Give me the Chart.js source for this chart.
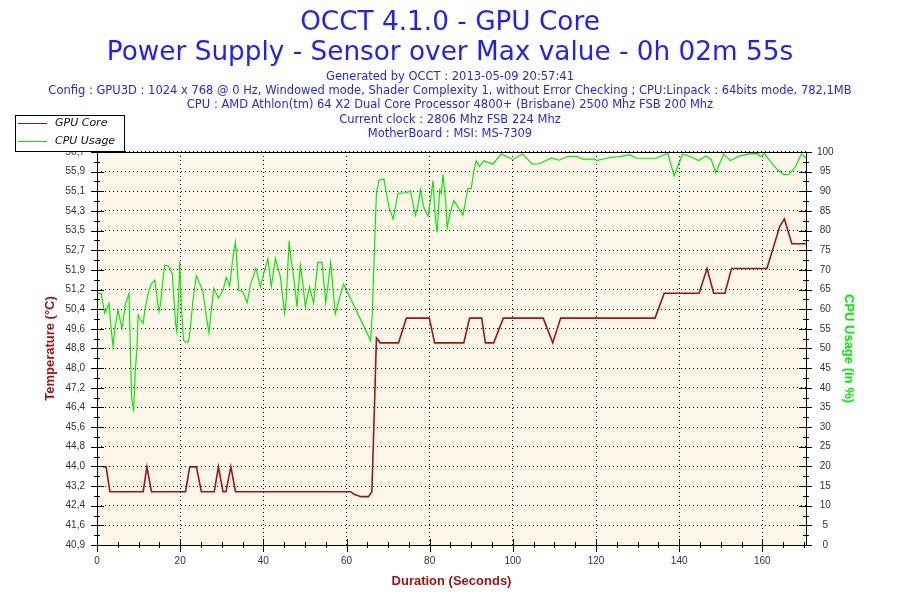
<!DOCTYPE html>
<html>
<head>
<meta charset="utf-8">
<script src="https://cdn.jsdelivr.net/npm/chart.js@4.4.0/dist/chart.umd.min.js"></script>
<style>
  body { margin: 0; background: #fff; }
</style>
</head>
<body>
<canvas id="occt-chart" width="900" height="600"></canvas>
<script>
// Titres et infos du rapport OCCT
const titleLines = ['OCCT 4.1.0 - GPU Core', 'Power Supply - Sensor over Max value - 0h 02m 55s'];
const infoLines = [
  'Generated by OCCT : 2013-05-09 20:57:41',
  'Config : GPU3D : 1024 x 768 @ 0 Hz, Windowed mode, Shader Complexity 1, without Error Checking ; CPU:Linpack : 64bits mode, 782,1MB',
  'CPU : AMD Athlon(tm) 64 X2 Dual Core Processor 4800+ (Brisbane) 2500 Mhz FSB 200 Mhz',
  'Current clock : 2806 Mhz FSB 224 Mhz',
  'MotherBoard : MSI: MS-7309'
];

// GPU Core (°C)
const gpuTime = [1.5, 2.2, 3.1, 11.1, 12.0, 13.1, 21.3, 22.3, 23.9, 25.1, 28.2, 29.2, 30.3, 31.0, 32.2, 33.3,
  61.0, 61.8, 63.5, 65.3, 66.1, 66.7, 67.2, 67.7, 68.1, 72.5, 74.4, 79.9, 81.2, 88.2, 89.6, 92.5, 93.4, 95.4,
  97.7, 107.3, 109.6, 111.5, 132.0, 134.2, 136.4, 144.8, 146.7, 148.3, 151.0, 152.6, 161.1, 164.2, 165.3,
  167.1, 170.5];
const gpuTemp = [44, 44, 43, 43, 44, 43, 43, 44, 44, 43, 43, 44, 43, 43, 44, 43,
  43, 42.9, 42.8, 42.8, 43, 46.3, 49.2, 49.1, 49, 49, 50, 50, 49, 49, 50, 50, 49, 49,
  50, 50, 49, 50, 50, 50, 51, 51, 52, 51, 51, 52, 52, 53.7, 54,
  53, 53];

// CPU Usage (%)
const cpuTime = [0.25, 1.0, 1.85, 2.3, 2.9, 3.2, 3.85, 4.25, 5.05, 6.0, 6.9, 7.7, 8.3, 8.8, 9.2, 9.6, 9.9,
  10.4, 11.1, 11.5, 12.3, 13.1, 13.9, 14.2, 14.9, 15.3, 15.9, 16.3, 17.2, 18.1, 18.9, 19.2, 19.6, 19.9,
  20.3, 20.8, 21.2, 22.0, 22.4, 23.1, 23.9, 24.7, 25.5, 26.3, 26.9, 27.5, 28.1, 29.2, 30.3, 31.1, 31.9,
  32.7, 33.3, 34.1, 35.1, 36.1, 36.9, 38.2, 39.3, 40.1, 41.1, 41.9, 42.9, 44.1, 45.1, 45.5, 46.2, 46.7,
  47.3, 48.1, 48.9, 49.5, 50.1, 51.1, 52.1, 53.1, 54.1, 55.0, 55.5, 56.2, 57.3, 58.2, 59.3, 65.8, 66.2,
  66.8, 67.2, 67.8, 69.0, 69.6, 70.2, 71.2, 72.4, 74.4, 75.4, 75.8, 76.6, 77.2, 77.8, 78.4, 78.8, 79.6,
  80.2, 80.8, 81.4, 81.8, 82.4, 82.8, 83.2, 83.9, 84.2, 84.8, 85.8, 86.8, 88.0, 89.2, 90.0, 90.6, 91.2,
  92.0, 93.0, 95.2, 97.2, 100.0, 102.3, 104.7, 106.4, 109.3, 111.1, 113.3, 115.5, 116.7, 119.7, 120.2,
  123.3, 125.7, 128.1, 129.7, 134.5, 135.5, 137.3, 138.8, 140.8, 142.5, 144.7, 146.4, 147.7, 148.8,
  150.7, 152.3, 154.5, 156.9, 158.9, 159.5, 160.5, 161.7, 163.7, 165.3, 166.5, 168.0, 169.4, 170.4];
const cpuUsage = [64, 64, 59, 60, 61.5, 57.3, 50.5, 54.7, 59.8, 55.1, 61.5, 64, 38, 34, 44, 50, 58.5,
  57.3, 56.4, 59.8, 64, 66.5, 67.4, 64.8, 59.4, 61.5, 68.2, 71.2, 71, 69.1, 56.4, 54.3, 62.4, 72.1,
  60.6, 52.1, 51.7, 51.7, 54.7, 62.4, 68.5, 66.5, 64.4, 58.1, 54, 59.8, 65.3, 62.8, 64.8, 68.1, 65.9,
  73.3, 77, 64.8, 64.4, 61.6, 66.2, 70.4, 65.7, 69.1, 72.9, 65.7, 72.9, 68.2, 59, 62.4, 77.4, 72.5,
  68.2, 60.6, 71.2, 66.5, 60.6, 65.7, 61.5, 71.9, 71.9, 61.6, 65.7, 71.9, 58.8, 62.4, 66.4, 52, 59,
  77.6, 89.5, 92.8, 93.1, 89.5, 86.1, 82.9, 89.5, 89.6, 90.1, 87.9, 83.9, 86.5, 90.5, 86.9, 85.2, 83.7,
  87.8, 92.7, 82.7, 79.5, 90.3, 89.5, 94.3, 86.9, 80.7, 83.9, 87.6, 86.1, 83.9, 90.7, 90.7, 95, 97.8,
  96.3, 97.8, 96.9, 99.5, 98.1, 99.5, 96.9, 97, 98.5, 97.9, 98.9, 98.9, 98.2, 98.2, 97.8,
  98.6, 98.8, 99.3, 98.4, 98.4, 98.9, 99.6, 93.9, 99.5, 98.9, 97.8, 99, 98.1, 94.7,
  99.5, 97.8, 99, 99.5, 99.6, 98.8, 99.6, 97.9, 95.4, 94.2, 94.4, 96.3, 99.5, 98.4];

// Graduations
const durationTicks = [0, 20, 40, 60, 80, 100, 120, 140, 160];
const tempTickLabels = ['40,9', '41,6', '42,4', '43,2', '44,0', '44,8', '45,6', '46,4', '47,2', '48,0', '48,8',
  '49,6', '50,4', '51,2', '51,9', '52,7', '53,5', '54,3', '55,1', '55,9', '56,7'];
const usageTicks = [0, 5, 10, 15, 20, 25, 30, 35, 40, 45, 50, 55, 60, 65, 70, 75, 80, 85, 90, 95, 100];

const TEMP_MIN = 40.85, TEMP_MAX = 56.7, DURATION_MAX = 170.5;

const toPoints = (xs, ys) => xs.map((x, i) => ({x: x, y: ys[i]}));
const tickFont = {family: 'Liberation Sans', size: 10};
const axisTitleFont = {family: 'Liberation Sans', size: 13, weight: 'bold'};

// fond beige de la zone de tracé
const plotBackground = {
  id: 'plotBackground',
  beforeDraw(chart) {
    const a = chart.chartArea, ctx = chart.ctx;
    ctx.save();
    ctx.fillStyle = '#fdf7e9';
    ctx.fillRect(a.left, a.top, a.right - a.left, a.bottom - a.top);
    ctx.restore();
  }
};

// cadre + graduations majeures / mineures
const axisMarks = {
  id: 'axisMarks',
  afterDraw(chart) {
    const a = chart.chartArea, ctx = chart.ctx;
    const sx = chart.scales.x, sy = chart.scales.y, sy1 = chart.scales.y1;
    ctx.save();
    ctx.strokeStyle = '#000';
    ctx.lineWidth = 1;
    ctx.strokeRect(Math.round(a.left) + 0.5, Math.round(a.top) + 0.5,
      Math.round(a.right - a.left), Math.round(a.bottom - a.top));
    ctx.beginPath();
    const hTick = (scale, xEdge, inLen, outLen, dir) => {
      const ticks = scale.ticks;
      for (let i = 0; i < ticks.length; i++) {
        const p = Math.round(scale.getPixelForValue(ticks[i].value)) + 0.5;
        ctx.moveTo(xEdge - dir * outLen, p); ctx.lineTo(xEdge + dir * inLen, p);
        if (i < ticks.length - 1) {
          const q = Math.round((scale.getPixelForValue(ticks[i].value) + scale.getPixelForValue(ticks[i + 1].value)) / 2) + 0.5;
          ctx.moveTo(xEdge - dir * 3, q); ctx.lineTo(xEdge + dir * 3, q);
        }
      }
    };
    hTick(sy, Math.round(a.left), 7, 6, 1);
    hTick(sy1, Math.round(a.right), 7, 6, -1);
    const yb = Math.round(a.bottom);
    for (let v = 0; v <= DURATION_MAX; v += 5) {
      const p = Math.round(sx.getPixelForValue(v)) + 0.5;
      const major = durationTicks.includes(v);
      ctx.moveTo(p, yb - (major ? 6 : 3)); ctx.lineTo(p, yb + (major ? 7 : 3));
    }
    ctx.stroke();
    ctx.restore();
  }
};

// légende encadrée en haut à gauche
const occtLegend = {
  id: 'occtLegend',
  afterDraw(chart) {
    const ctx = chart.ctx;
    ctx.save();
    ctx.fillStyle = '#fff';
    ctx.fillRect(15.5, 115.5, 109, 36);
    ctx.strokeStyle = '#000';
    ctx.lineWidth = 1;
    ctx.strokeRect(15.5, 115.5, 109, 36);
    chart.data.datasets.forEach((ds, i) => {
      const y = 123.5 + i * 18;
      ctx.strokeStyle = ds.borderColor;
      ctx.beginPath(); ctx.moveTo(18, y); ctx.lineTo(47, y); ctx.stroke();
      ctx.fillStyle = '#111';
      ctx.font = 'italic 11px "DejaVu Sans"';
      ctx.textBaseline = 'middle';
      ctx.fillText(ds.label, 55, y);
    });
    ctx.restore();
  }
};

new Chart(document.getElementById('occt-chart'), {
  type: 'line',
  data: {
    datasets: [{
      label: 'GPU Core',
      data: toPoints(gpuTime, gpuTemp),
      yAxisID: 'y',
      borderColor: '#a01414',
      borderWidth: 1.6,
      pointRadius: 0,
      tension: 0
    }, {
      label: 'CPU Usage',
      data: toPoints(cpuTime, cpuUsage),
      yAxisID: 'y1',
      borderColor: '#00ee00',
      borderWidth: 1.2,
      pointRadius: 0,
      tension: 0
    }]
  },
  options: {
    responsive: false,
    animation: false,
    layout: {padding: 0},
    plugins: {
      legend: {display: false},
      tooltip: {enabled: false},
      title: {
        display: true,
        text: titleLines,
        color: '#1e1eff',
        font: {family: 'DejaVu Sans', size: 26.3, weight: 'normal', lineHeight: 1.14},
        padding: {top: 8, bottom: 0}
      },
      subtitle: {
        display: true,
        text: infoLines,
        color: '#2626f2',
        font: {family: 'DejaVu Sans', size: 11.5, lineHeight: 1.235},
        padding: {top: 2, bottom: 11}
      }
    },
    scales: {
      x: {
        type: 'linear',
        min: 0,
        max: DURATION_MAX,
        afterBuildTicks: s => { s.ticks = durationTicks.map(v => ({value: v})); },
        afterFit: s => { s.height = 55; },
        grid: {color: '#000', lineWidth: 1, drawTicks: false},
        border: {display: false, dash: [1, 3]},
        ticks: {padding: 10, color: '#333', font: tickFont, maxRotation: 0, autoSkip: false},
        title: {display: true, text: 'Duration (Seconds)', color: '#a01414', font: axisTitleFont,
          padding: {top: 0, bottom: 11}}
      },
      y: {
        position: 'left',
        min: TEMP_MIN,
        max: TEMP_MAX,
        afterBuildTicks: s => {
          s.ticks = tempTickLabels.map((t, i) => ({value: TEMP_MIN + i * (TEMP_MAX - TEMP_MIN) / (tempTickLabels.length - 1)}));
        },
        afterFit: s => { s.width = 97; },
        grid: {color: '#000', lineWidth: 1, drawTicks: false},
        border: {display: false, dash: [1, 3]},
        ticks: {padding: 12, color: '#333', font: tickFont, autoSkip: false,
          callback: (v, i) => tempTickLabels[i]},
        title: {display: true, text: 'Temperature (°C)', color: '#a01414', font: axisTitleFont,
          padding: {top: 43, bottom: 0}}
      },
      y1: {
        position: 'right',
        min: 0,
        max: 100,
        afterBuildTicks: s => { s.ticks = usageTicks.map(v => ({value: v})); },
        afterFit: s => { s.width = 94; },
        grid: {drawOnChartArea: false, drawTicks: false},
        border: {display: false},
        ticks: {padding: 11, color: '#333', font: tickFont, autoSkip: false, crossAlign: 'center'},
        title: {display: true, text: 'CPU Usage (in %)', color: '#00ee00', font: axisTitleFont,
          padding: {top: 44, bottom: 0}}
      }
    }
  },
  plugins: [plotBackground, axisMarks, occtLegend]
});
</script>
</body>
</html>
